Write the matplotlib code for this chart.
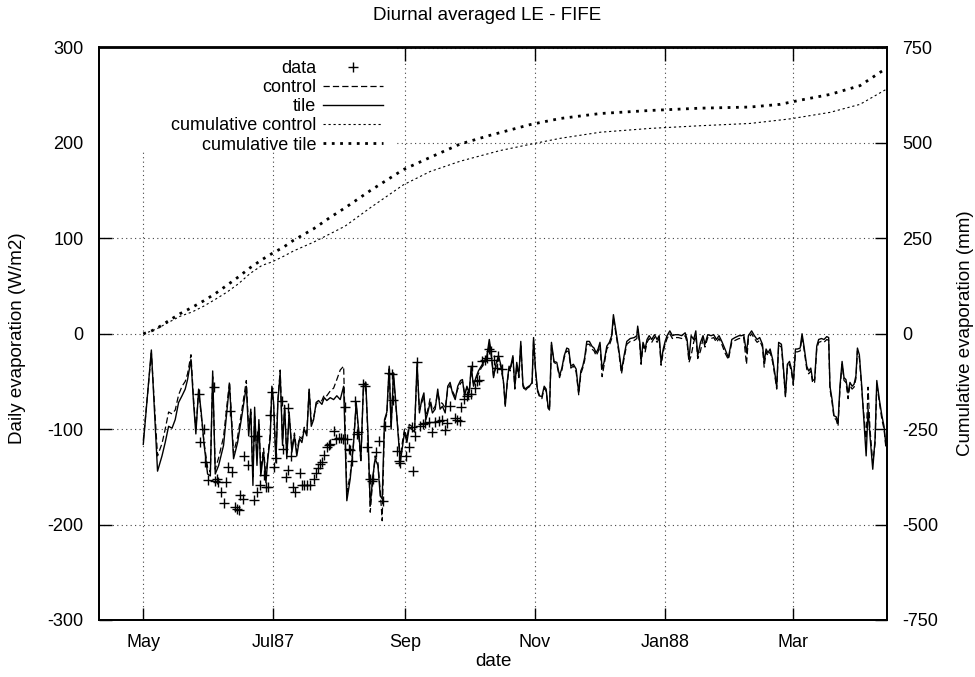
import matplotlib
matplotlib.use("Agg")
import matplotlib.pyplot as plt
from matplotlib.patches import Rectangle
import numpy as np
import pandas as pd

plt.rcParams['font.family'] = ['Liberation Sans', 'DejaVu Sans']
plt.rcParams['font.size'] = 13
plt.rcParams['axes.unicode_minus'] = False

START = pd.Timestamp('1987-05-01')

# daily evaporation (W/m2), days counted from 1 May 1987
day = [0, 3.8, 6.7, 8.8, 10.3, 11.9, 13.5, 15.0, 16.6, 18.2, 19.7, 20.8, 22.4, 23.6, 24.7,
       26.0, 27.2, 28.6, 30.2, 31.5, 32.6, 33.8, 35.4, 37.7, 40.5, 42.4, 44.3, 46.3, 48.4,
       49.5, 50.5, 51.5, 52.3, 53.4, 54.3, 55.2, 56.5, 57.6, 58.5, 59.6, 60.4, 61.2, 62.3,
       63.2, 64.3, 65.4, 66.4, 67.4, 68.5, 69.8, 71.0, 72.1, 73.4, 74.5, 75.6, 76.8, 77.9,
       78.9, 80.0, 81.2, 82.3, 83.9, 85.0, 86.2, 87.8, 89.4, 90.9, 92.5, 94.1, 95.6, 97.2,
       98.7, 100.0, 101.1, 102.2, 103.4, 104.5, 105.5, 106.6, 107.7, 108.9, 110.2, 111.3,
       112.2, 113.3, 114.4, 115.5, 116.4, 117.5, 118.6, 119.6, 120.7,
       121.8, 122.7, 123.8, 124.9, 126.1, 127.4, 128.6, 129.7, 130.8, 131.8, 132.7, 133.6,
       134.7, 135.8, 137.1, 138.3, 139.4, 140.5, 141.8, 143.0, 144.1, 145.2, 146.5, 147.7,
       149.0, 149.9, 150.9, 152.0, 153.1, 154.0, 155.1, 156.2, 157.4, 158.7, 159.9, 161.4,
       162.5, 163.4, 164.5, 165.6, 166.8, 168.1, 169.2, 170.0, 170.9, 171.8,
       172.3, 173.6, 174.5, 175.4, 176.4, 177.3, 178.3, 179.2, 180.4, 181.7, 182.6, 183.3,
       184.2, 185.1, 186.1, 187.2, 188.3, 189.2, 190.1, 190.8, 191.7, 192.9, 194.2, 195.5,
       196.6, 197.7, 198.9, 199.8, 200.8, 202.0, 203.3, 204.5, 205.5, 206.4, 207.3, 208.3,
       209.5, 210.7, 211.7, 212.7, 213.6, 214.5, 215.5, 216.4, 217.7, 218.9, 220.0, 220.8,
       222.1, 223.3, 224.6, 225.8, 227.1, 228.7, 230.6, 231.8,
       232.2, 233.2, 233.8, 234.7, 235.7, 236.6, 237.6, 238.8, 240.1, 241.3, 242.3, 243.2,
       244.2, 245.1, 246.0, 247.3, 248.5, 249.8, 251.3, 252.9, 254.5, 255.4, 256.3, 257.3,
       258.5, 259.5, 260.4, 261.7, 262.9, 263.8, 265.1, 266.7, 267.9, 269.2, 270.4, 271.7,
       273.2, 274.8, 276.4, 277.9, 279.8, 281.1, 282.0, 283.3, 284.2, 285.7, 287.0, 288.3,
       289.5, 290.8,
       291.6, 292.5, 293.4, 294.4, 295.6, 296.6, 297.5, 298.4, 299.7, 300.6, 301.6, 302.5,
       303.5, 304.4, 305.3, 306.3, 307.2, 308.5, 309.4, 310.3, 311.6, 312.5, 313.5, 314.4,
       315.3, 316.3, 317.2, 318.5, 319.7, 321.0, 321.9, 322.5, 323.5, 324.4, 325.4, 326.3,
       327.2, 328.2, 329.1, 330.0, 331.0, 331.9, 332.9, 333.8, 334.7, 335.4, 336.3, 337.3,
       338.2, 339.5, 340.4, 341.3, 342.6, 343.7, 344.5, 345.7, 346.9, 347.9, 348.8]

tile = [-116, -17, -144, -128, -114, -97, -99, -90, -72, -65, -58, -48, -27, -72, -105,
        -58, -82, -117, -147, -149, -39, -147, -138, -117, -53, -131, -114, -86, -55,
        -107, -79, -159, -77, -138, -90, -149, -124, -156, -131, -110, -55, -72, -135,
        -72, -41, -117, -75, -131, -82, -124, -107, -128, -110, -114, -100, -107, -58,
        -97, -90, -72, -70, -74, -67, -70, -67, -69, -65, -69, -55, -175, -152,
        -117, -72, -100, -131, -55, -51, -103, -180, -152, -131, -138, -170,
        -173, -90, -82, -34, -100, -41, -72, -103, -135,
        -117, -103, -114, -98, -100, -103, -30, -83, -69, -62, -90, -83,
        -72, -83, -79, -58, -79, -76, -83, -55, -51, -62, -69, -55,
        -49, -48, -65, -55, -62, -34, -55, -46, -39, -34, -30, -23,
        -6, -20, -46, -32, -23, -34, -51, -76, -51, -34,
        -37, -23, -56, -30, -44, -8, -53, -58, -56, -54, -51, -4,
        -37, -58, -65, -66, -55, -58, -76, -79, -9, -29, -30, -44,
        -36, -23, -15, -16, -34, -32, -37, -62, -39, -34, -25, -8,
        -8, -13, -15, -20, -16, -9, -37, -30, -13, -9, -2, 20,
        1, -16, -39, -23, -8, -5, -4, -2,
        8, -9, -29, -9, -16, -6, -2, -6, -1, -6, -2, -30,
        -16, -8, -2, 3, -2, -1, -1, -2, 1, -6, -27, -2,
        -6, 3, -23, -9, -2, -11, -1, -2, -1, -6, -2, -8,
        -16, -25, -6, -4, -2, -2, -1, -20, -2, 3, -2, -6,
        -4, -11,
        -30, -16, -20, -16, -27, -41, -56, -9, -11, -34, -65, -32,
        -29, -37, -51, -16, -16, -15, 0, -13, -34, -39, -36, -49,
        -48, -13, -6, -5, -6, -3, -4, -55, -69, -86, -87, -93,
        -55, -29, -46, -48, -62, -51, -55, -53, -44, -15, -22, -51,
        -83, -128, -79, -107, -142, -110, -49, -69, -86, -97, -117]

control = [-112, -20, -128, -115, -100, -82, -84, -80, -64, -55, -50, -42, -22, -68, -100,
           -60, -85, -115, -140, -145, -45, -142, -130, -108, -50, -125, -108, -80, -49,
           -100, -82, -150, -85, -130, -95, -142, -120, -150, -128, -105, -58, -75, -130,
           -70, -38, -112, -80, -127, -85, -120, -104, -124, -108, -110, -98, -104, -58,
           -92, -88, -74, -72, -70, -64, -65, -60, -57, -48, -38, -34, -166, -148,
           -115, -74, -103, -135, -53, -52, -108, -187, -155, -128, -135, -165,
           -196, -92, -84, -37, -97, -45, -75, -100, -130,
           -112, -100, -110, -95, -97, -100, -35, -80, -72, -66, -86, -80,
           -68, -80, -76, -62, -72, -73, -78, -58, -54, -60, -66, -58,
           -52, -50, -62, -57, -60, -38, -52, -48, -42, -36, -32, -26,
           -10, -22, -44, -35, -26, -36, -52, -74, -53, -36,
           -39, -25, -58, -33, -46, -11, -55, -60, -57, -55, -53, -7,
           -39, -60, -66, -68, -57, -60, -78, -80, -12, -30, -32, -46,
           -38, -25, -18, -19, -36, -34, -40, -64, -42, -36, -28, -11,
           -11, -16, -18, -23, -19, -12, -45, -33, -16, -12, -5, 17,
           -2, -19, -42, -26, -11, -8, -7, -5,
           5, -12, -32, -12, -19, -9, -5, -9, -4, -9, -5, -33,
           -19, -11, -5, 0, -5, -4, -4, -5, -2, -9, -30, -23,
           -9, -2, -26, -18, -5, -14, -4, -5, -4, -9, -5, -11,
           -20, -27, -9, -7, -5, -5, -4, -32, -5, 0, -5, -9,
           -7, -14,
           -35, -19, -23, -19, -30, -44, -58, -12, -14, -37, -66, -35,
           -32, -40, -54, -19, -19, -18, -3, -16, -37, -42, -39, -52,
           -51, -16, -9, -8, -9, -6, -7, -58, -72, -88, -90, -97,
           -58, -32, -49, -51, -68, -54, -58, -56, -47, -18, -25, -54,
           -80, -110, -56, -100, -135, -115, -52, -72, -90, -100, -120]

# observed FIFE daily means
obs_day = [26.0, 26.8, 28.3, 29.1, 30.2, 33.0, 33.8, 34.6, 34.9, 36.5, 37.7, 39.0, 39.6,
           40.8, 41.6, 43.2, 44.0, 44.8, 45.5, 46.8, 47.4, 49.0, 51.8, 51.8, 53.4, 53.4,
           54.9, 56.5, 57.6, 58.8, 59.6, 60.4, 61.2, 62.3, 65.1, 65.6, 66.8, 67.8, 68.2,
           69.3, 70.3, 71.4, 73.7, 74.5, 75.6, 76.8, 78.4, 80.0, 81.2, 82.0, 83.1, 83.9,
           85.0, 86.2, 87.0, 87.8, 89.4, 90.6, 91.7, 92.8, 93.7, 94.8, 95.6, 96.4, 97.2,
           98.0, 99.5, 100.3, 100.8, 103.4, 104.2, 105.0, 106.3, 107.4, 108.1, 109.2,
           110.5, 112.5, 113.6, 115.2, 116.7, 117.5, 119.1, 119.9,
           120.7, 123.3, 124.6, 126.6, 126.1, 127.7, 128.5, 130.0, 131.6, 132.4, 134.0,
           135.5, 136.8, 138.7, 140.2, 141.8, 142.6, 144.2, 146.2, 147.3, 148.8, 149.3,
           150.8, 151.9, 152.7, 153.9, 154.6, 155.9, 156.6, 157.8, 159.0, 160.3, 161.3,
           162.5, 163.4, 164.5, 166.0, 166.8, 168.4]
obs = [-63, -113, -100, -134, -153, -56, -154, -152, -155, -166, -177, -155, -140,
       -81, -145, -182, -184, -185, -169, -173, -128, -138, -174, -107, -107, -166,
       -158, -148, -161, -161, -85, -61, -140, -130, -70, -121, -150, -78, -143,
       -128, -161, -166, -146, -159, -159, -158, -158, -152, -146, -141, -137, -134,
       -127, -119, -117, -116, -102, -110, -109, -109, -110, -77, -110, -121, -122,
       -133, -70, -105, -103, -53, -55, -119, -152, -154, -152, -124,
       -112, -175, -97, -41, -42, -69, -123, -133,
       -135, -128, -119, -144, -98, -107, -30, -97, -95, -94, -92,
       -103, -92, -91, -90, -101, -94, -76, -88, -90, -91, -77,
       -68, -65, -63, -63, -34, -57, -49, -48, -29, -28, -25,
       -16, -18, -27, -36, -23, -37]

# cumulative evaporation (mm)
cum_tile_day = [0, 3.3, 6.4, 11.9, 17.4, 22.9, 28.3, 33.8, 39.3, 44.7, 50.2, 55.7, 60.4,
                65.9, 70.6, 80, 87.8, 94.8, 106.6, 122.1, 134.7, 148.8, 162.9, 181.7,
                195.8, 214.6, 238, 261.5, 285, 299, 308.5, 322.5, 336.6, 348.8]
cum_tile = [0, 6, 14, 34, 53, 69, 86, 105, 127, 149, 173, 194, 210,
            227, 245, 275, 305, 330, 375, 430, 462, 497, 520, 548,
            564, 577, 585, 591, 594, 601, 612, 627, 650, 695]
cum_ctrl_day = [0, 3.3, 6.4, 11.9, 17.4, 22.9, 28.3, 33.8, 39.3, 44.7, 50.2, 55.7, 60.4,
                65.9, 70.6, 80, 87.8, 94.8, 106.6, 122.1, 134.7, 148.8, 167.6, 184,
                195.8, 214.6, 238, 261.5, 285, 303.8, 322.5, 336.6, 348.8]
cum_ctrl = [0, 6, 13, 30, 46, 57, 72, 90, 109, 131, 158, 179, 188,
            203, 217, 240, 262, 282, 330, 390, 425, 452, 480, 499,
            512, 528, 538, 545, 551, 563, 580, 601, 640]

tick_dates = ['1987-05-01', '1987-07-01', '1987-09-01', '1987-11-01', '1988-01-01', '1988-03-01']
tick_labels = ['May', 'Jul87', 'Sep', 'Nov', 'Jan88', 'Mar']


def to_dates(days):
    return START + pd.to_timedelta(np.asarray(days, dtype=float), unit='D')


fig = plt.figure(figsize=(9.75, 6.77), dpi=100)
ax = fig.add_axes([99 / 975, 1 - 620 / 677, 788 / 975, 572.5 / 677])
ax2 = ax.twinx()

ax.plot(to_dates(obs_day), obs, ls='none', marker='+', ms=7, mew=1.0, color='black',
        label='data', zorder=3)
ax.plot(to_dates(day), control, color='black', lw=0.9, ls=(0, (5, 2.5)), label='control',
        zorder=3)
ax.plot(to_dates(day), tile, color='black', lw=1.0, label='tile', zorder=3)
ax2.plot(to_dates(cum_ctrl_day), cum_ctrl, color='black', lw=0.8, ls=(0, (2, 2.5)),
         label='cumulative control')
ax2.plot(to_dates(cum_tile_day), cum_tile, color='black', lw=2.0, ls=(0, (1, 2)),
         label='cumulative tile')

ax.set_xlim(pd.Timestamp('1987-04-10 05:00'), pd.Timestamp('1988-04-14 07:00'))
ax.set_ylim(-300, 300)
ax2.set_ylim(-750, 750)
ax.set_yticks(np.arange(-300, 301, 100))
ax2.set_yticks(np.arange(-750, 751, 250))
ax.set_xticks(pd.to_datetime(tick_dates))
ax.set_xticklabels(tick_labels)

ax.set_axisbelow(True)
ax.grid(True, color='#444444', lw=0.8, ls=(0, (1, 3)))
ax.tick_params(axis='both', direction='in', length=9, width=1, top=True, pad=10)
ax.tick_params(axis='y', right=False, pad=11)
ax2.tick_params(axis='y', direction='in', length=9, width=1, pad=11)
for a in (ax, ax2):
    for s in a.spines.values():
        s.set_linewidth(1.3)

# blank area behind the key
ax.add_patch(Rectangle((0, 0.821), 0.376, 0.179, transform=ax.transAxes,
                       facecolor='white', edgecolor='none', zorder=1))

h1, l1 = ax.get_legend_handles_labels()
h2, l2 = ax2.get_legend_handles_labels()
ax2.legend(h1 + h2, l1 + l2, loc='upper right',
           bbox_to_anchor=(383 / 975, 1 - 60 / 677), bbox_transform=fig.transFigure,
           markerfirst=False, frameon=False, handlelength=3.3, handletextpad=0.4,
           labelspacing=0.12, borderpad=0, borderaxespad=0, fontsize=13)

fig.text(487 / 975, 1 - 15 / 677, 'Diurnal averaged LE - FIFE', ha='center', va='center',
         fontsize=13.5)
fig.text(493 / 975, 1 - 662 / 677, 'date', ha='center', va='center', fontsize=13.5)
fig.text(18 / 975, 1 - 338 / 677, 'Daily evaporation (W/m2)', rotation=90,
         ha='center', va='center', fontsize=13.5)
fig.text(965 / 975, 1 - 333 / 677, 'Cumulative evaporation (mm)', rotation=90,
         ha='center', va='center', fontsize=13.5)

fig.savefig('out.png', dpi=100)
